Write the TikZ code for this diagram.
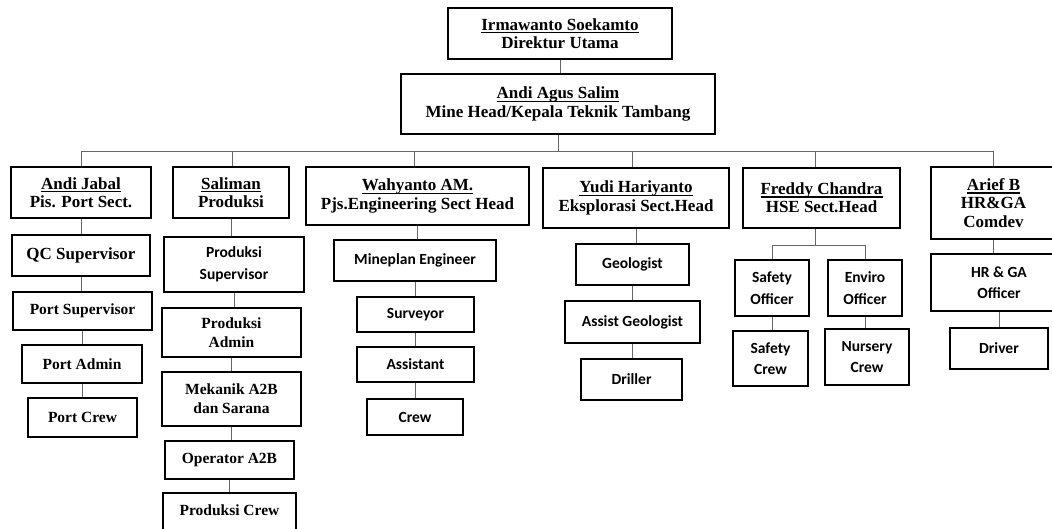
\documentclass[tikz,border=0pt]{standalone}
\usepackage{fontspec}
\setmainfont{Liberation Serif}
\newfontfamily\calib{Carlito}
\newsavebox\namebox
\newcommand\nameul[1]{\leavevmode\sbox\namebox{#1}\rlap{\rule[-2.9pt]{\wd\namebox}{1.1pt}}\usebox\namebox}
\tikzset{
  box/.style={draw=black, line width=2.5pt, inner sep=0pt, align=center,
    font=\fontsize{15.5}{19}\selectfont\bfseries},
  headbox/.style={box, font=\fontsize{17}{18.3}\selectfont\bfseries},
  sbox/.style={box, font=\fontsize{15.5}{21.5}\selectfont\calib\bfseries},
  conn/.style={draw=black!60, line width=0.9pt}
}
\newcommand\orgbox[7]{%
  \node[#2, minimum width={(#4-#3)*1pt}, minimum height={(#6-#5)*1pt}]
    (#1) at ({(#3+#4)/2},{(#5+#6)/2}) {#7};}
\begin{document}
\begin{tikzpicture}[x=1pt,y=-1pt]
\useasboundingbox (0,0) rectangle (1052,528);
\clip (0,0) rectangle (1052,528);
\fill[white] (0,0) rectangle (1052,528);
% top
\orgbox{dir}{headbox}{448}{672}{8}{59}{\nameul{Irmawanto Soekamto}\\Direktur Utama}
\orgbox{mh}{headbox}{401}{715}{74}{134}{\nameul{Andi Agus Salim}\\Mine Head/Kepala Teknik Tambang}
% level 2
\orgbox{aj}{headbox}{11}{151}{167}{218}{\nameul{Andi Jabal}\\Pis. Port Sect.}
\orgbox{sal}{headbox}{173}{289}{167}{218}{\nameul{Saliman}\\Produksi}
\orgbox{wah}{headbox}{306}{529}{167}{225}{\nameul{Wahyanto AM.}\\Pjs.Engineering Sect Head}
\orgbox{yudi}{headbox}{543}{729}{168}{228}{\nameul{Yudi Hariyanto}\\Eksplorasi Sect.Head}
\orgbox{fred}{headbox}{743}{900}{168}{228}{\nameul{Freddy Chandra}\\HSE Sect.Head}
\orgbox{arief}{headbox}{931}{1056}{167}{239}{\nameul{Arief B}\\HR\&GA\\Comdev}
% Andi Jabal column
\orgbox{qc}{box}{12}{150}{235}{276}{\fontsize{17}{19}\selectfont QC Supervisor}
\orgbox{psv}{box}{13}{152}{292}{330}{Port Supervisor}
\orgbox{padm}{box}{22}{142}{345}{383}{Port Admin}
\orgbox{pcrew}{box}{28}{137}{398}{437}{Port Crew}
% Saliman column
\orgbox{prsv}{sbox}{164}{304}{237}{292}{Produksi\\Supervisor}
\orgbox{pradm}{box}{162}{301}{308}{357}{Produksi\\Admin}
\orgbox{mek}{box}{162}{301}{372}{426}{Mekanik A2B\\dan Sarana}
\orgbox{opr}{box}{165}{294}{441}{479}{Operator A2B}
\orgbox{prcrew}{box}{163}{296}{493}{530}{\raisebox{3pt}{Produksi Crew}}
% Wahyanto column
\orgbox{mine}{sbox}{334}{496}{240}{281}{Mineplan Engineer}
\orgbox{surv}{sbox}{357}{474}{297}{332}{Surveyor}
\orgbox{asst}{sbox}{357}{474}{347}{382}{Assistant}
\orgbox{wcrew}{sbox}{367}{463}{399}{435}{Crew}
% Yudi column
\orgbox{geo}{sbox}{576}{689}{244}{285}{Geologist}
\orgbox{ageo}{sbox}{565}{700}{301}{343}{Assist Geologist}
\orgbox{dril}{sbox}{581}{682}{359}{400}{Driller}
% Freddy column
\orgbox{sofc}{sbox}{735}{809}{260}{316}{Safety\\Officer}
\orgbox{eofc}{sbox}{828}{902}{260}{316}{Enviro\\Officer}
\orgbox{screw}{sbox}{733}{808}{331}{386}{Safety\\Crew}
\orgbox{ncrew}{sbox}{825}{909}{329}{385}{Nursery\\Crew}
% Arief column
\orgbox{hr}{sbox}{931}{1067}{254}{311}{HR \& GA\\Officer}
\orgbox{drv}{sbox}{950}{1048}{328}{369}{Driver}
% connectors
\coordinate (bus) at (0,151);
\coordinate (fbr) at (0,245);
\draw[conn] (dir.south) -- (dir.south |- mh.north);
\draw[conn] (mh.south) -- (mh.south |- bus);
\draw[conn] (aj.north |- bus) -- (arief.north |- bus);
\foreach \n/\s in {aj/0,sal/1.5,wah/-3.5,yudi/-4,fred/-6.5,arief/0}
  \draw[conn] ([xshift=\s pt]\n.north |- bus) -- ([xshift=\s pt]\n.north);
\foreach \a/\b in {aj/qc,qc/psv,psv/padm,padm/pcrew,
                   sal/prsv,prsv/pradm,pradm/mek,mek/opr,opr/prcrew,
                   wah/mine,mine/surv,surv/asst,asst/wcrew,
                   yudi/geo,geo/ageo,ageo/dril,
                   sofc/screw,eofc/ncrew,
                   arief/hr,hr/drv}
  \draw[conn] (\a.south) -- (\a.south |- \b.north);
\draw[conn] ([xshift=-6.5pt]fred.south) -- ([xshift=-6.5pt]fred.south |- fbr);
\draw[conn] (sofc.north |- fbr) -- (eofc.north |- fbr);
\draw[conn] (sofc.north |- fbr) -- (sofc.north);
\draw[conn] (eofc.north |- fbr) -- (eofc.north);
\end{tikzpicture}
\end{document}
